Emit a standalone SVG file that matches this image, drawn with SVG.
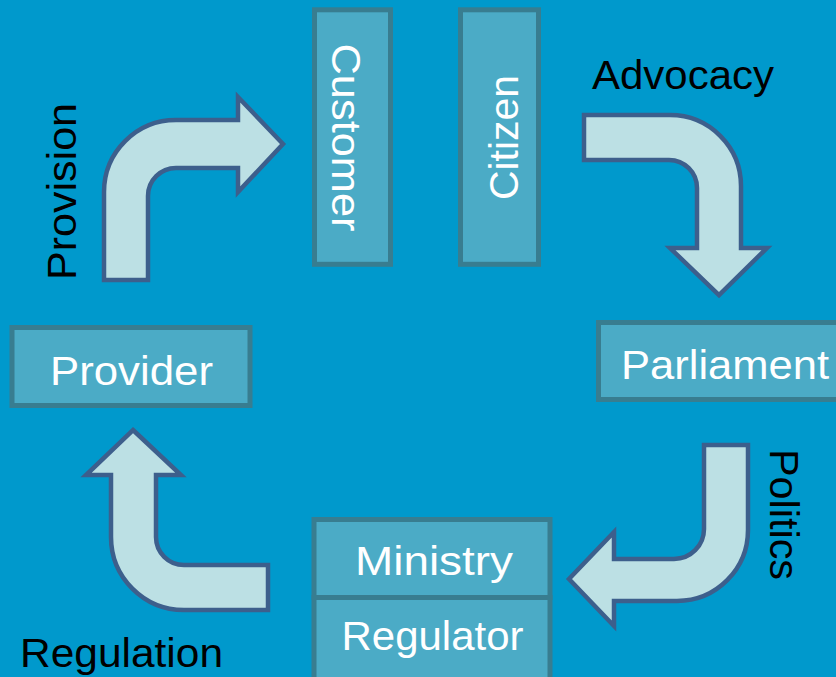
<svg xmlns="http://www.w3.org/2000/svg" width="836" height="677" viewBox="0 0 836 677">
<style>
.box{fill:#4babc6;stroke:#387d90;stroke-width:5}
.nt{fill:#ffffff;font-family:"Liberation Sans",Arial,sans-serif;font-size:41px;text-anchor:middle}
.arr{fill:#bce0e4;stroke:#3d5f8c;stroke-width:4.5;stroke-linejoin:miter}
.lt{fill:#000000;font-family:"Liberation Sans",Arial,sans-serif;font-size:41px;text-anchor:middle}
</style>
<rect x="0" y="0" width="836" height="677" fill="#0099cc"/>
<g id="connectors">
<path class="arr" d="M 104 280 L 104 192 A 72 72 0 0 1 176 120 L 238 120 L 238 97 L 283 144 L 238 192 L 238 168 L 176 168 A 28 28 0 0 0 148 196 L 148 280 Z"/>
<path class="arr" d="M 584 115 L 670 115 A 71 71 0 0 1 741 186 L 741 248 L 767 248 L 719 295 L 670 248 L 697 248 L 697 188 A 28 28 0 0 0 669 160 L 584 160 Z"/>
<path class="arr" d="M 704 445 L 748 445 L 748 530 A 71 71 0 0 1 677 601 L 614 601 L 614 626 L 569 579 L 614 532 L 614 559 L 674 559 A 30 30 0 0 0 704 529 Z"/>
<path class="arr" d="M 133 430 L 181 475 L 156 475 L 156 537 A 28 28 0 0 0 184 565 L 268 565 L 268 610 L 184 610 A 73 73 0 0 1 111 537 L 111 475 L 86 475 Z"/>
<text class="lt" transform="translate(76,191.5) rotate(-90)" textLength="177" lengthAdjust="spacingAndGlyphs">Provision</text>
<text class="lt" x="683" y="89" textLength="182" lengthAdjust="spacingAndGlyphs">Advocacy</text>
<text class="lt" transform="translate(770,514.5) rotate(90)" textLength="131" lengthAdjust="spacingAndGlyphs">Politics</text>
<text class="lt" x="121.5" y="667" textLength="203" lengthAdjust="spacingAndGlyphs">Regulation</text>
</g>
<g id="customer">
<rect class="box" x="314.5" y="9.8" width="76" height="254.5"/>
<text class="nt" transform="translate(332,137.5) rotate(90)" textLength="188" lengthAdjust="spacingAndGlyphs">Customer</text>
</g>
<g id="citizen">
<rect class="box" x="460.5" y="9.8" width="78" height="254.5"/>
<text class="nt" transform="translate(518,137.5) rotate(-90)" textLength="125" lengthAdjust="spacingAndGlyphs">Citizen</text>
</g>
<g id="provider">
<rect class="box" x="12" y="327.5" width="238" height="78"/>
<text class="nt" x="131.5" y="385" textLength="163" lengthAdjust="spacingAndGlyphs">Provider</text>
</g>
<g id="parliament">
<rect class="box" x="598.5" y="322.5" width="250" height="77"/>
<text class="nt" x="725" y="379" textLength="208" lengthAdjust="spacingAndGlyphs">Parliament</text>
</g>
<g id="ministry">
<rect class="box" x="314" y="519.5" width="236" height="78"/>
<text class="nt" x="434" y="575" textLength="158" lengthAdjust="spacingAndGlyphs">Ministry</text>
</g>
<g id="regulator">
<rect class="box" x="314" y="597.5" width="236" height="84"/>
<text class="nt" x="432.5" y="650" textLength="182" lengthAdjust="spacingAndGlyphs">Regulator</text>
</g>
</svg>
